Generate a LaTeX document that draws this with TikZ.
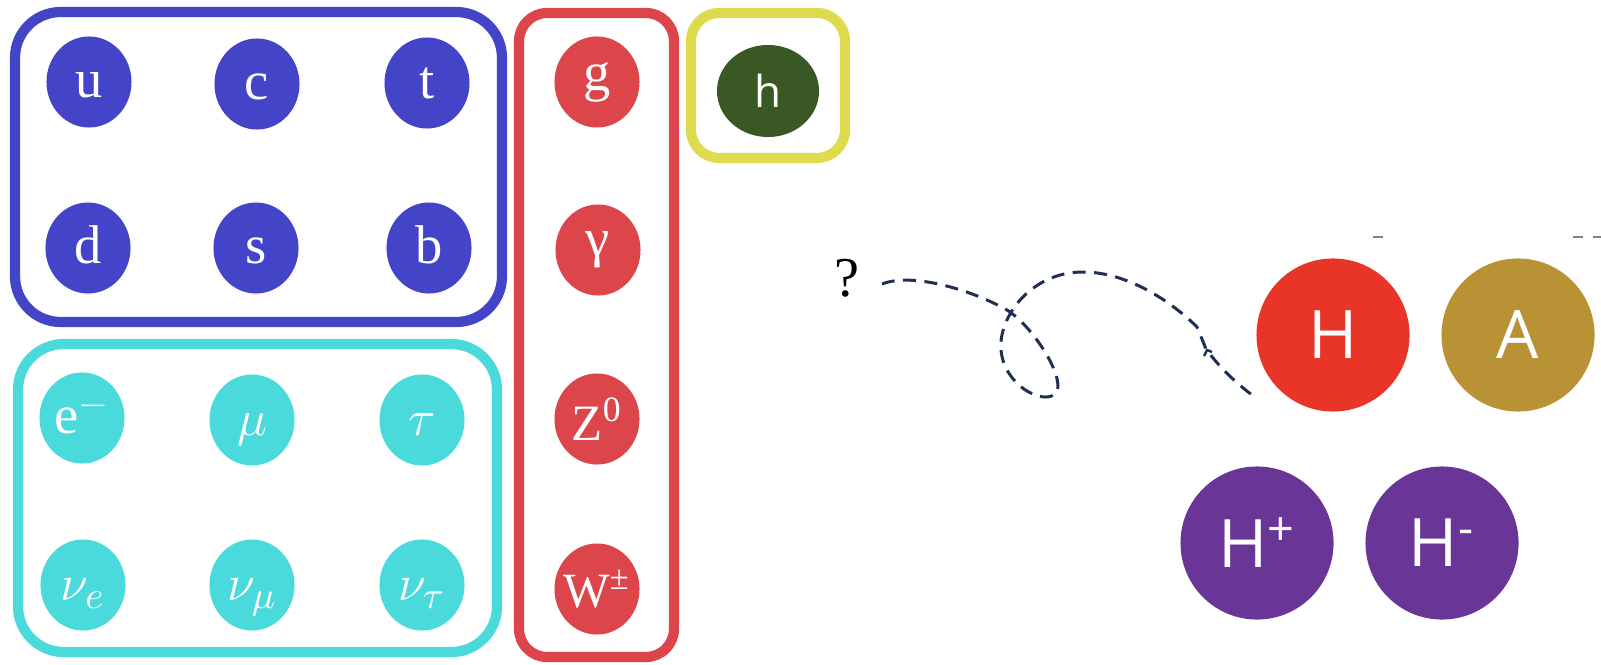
\documentclass[tikz,border=0pt]{standalone}
\usepackage{fontspec}
\setmainfont{Liberation Serif}
\setsansfont{Open Sans}
\usetikzlibrary{shapes.geometric}
\definecolor{qblue}{RGB}{68,68,200}
\definecolor{lcyan}{RGB}{74,218,220}
\definecolor{bred}{RGB}{220,70,74}
\definecolor{hyel}{RGB}{222,220,78}
\definecolor{hgreen}{RGB}{58,88,36}
\definecolor{bigH}{RGB}{232,53,39}
\definecolor{bigA}{RGB}{184,146,52}
\definecolor{bigP}{RGB}{105,53,151}
\definecolor{navy}{RGB}{30,48,80}
\tikzset{
  groupbox/.style={line width=2.9pt, rounded corners=#1},
  blob/.style={ellipse, inner sep=0pt, minimum width=0.85cm, minimum height=0.91cm,
    text=white, font=\fontsize{15.5}{18}\selectfont},
  based/.style={text height=9pt, text depth=0pt},
  bigc/.style={circle, inner sep=0pt, minimum size=1.53cm, text=white,
    font=\sffamily\fontsize{19}{22}\selectfont},
  path-dash/.style={navy, line width=0.85pt, dash pattern=on 3.7pt off 2.4pt},
}
\begin{document}
\begin{tikzpicture}[x=0.01cm,y=-0.01cm]
\useasboundingbox (0,0) rectangle (1601,664);
% group boxes
\draw[groupbox=13pt, qblue] (15,12) rectangle (502,322);
\draw[groupbox=13pt, lcyan] (18,344) rectangle (497,652);
\draw[groupbox=8pt, bred] (519,13) rectangle (674,657);
\draw[groupbox=8pt, hyel] (691,13) rectangle (845,158);
% quarks
\node[blob, based, fill=qblue] (u) at (89,82) {u};
\node[blob, based, fill=qblue] (c) at (257,84) {c};
\node[blob, based, fill=qblue] (t) at (427,83) {t};
\node[blob, based, fill=qblue] (d) at (88,248) {d};
\node[blob, based, fill=qblue] (s) at (256,248) {s};
\node[blob, based, fill=qblue] (b) at (429,248) {b};
% leptons
\node[blob, based, fill=lcyan] (e) at (82,418) {e$^{-}$};
\node[blob, based, fill=lcyan] (mu) at (252,420) {$\mu$};
\node[blob, based, fill=lcyan] (tau) at (422,420) {$\tau$};
\node[blob, based, fill=lcyan] (ne) at (83,585) {$\nu_e$};
\node[blob, based, fill=lcyan] (nm) at (252,585) {$\nu_\mu$};
\node[blob, based, fill=lcyan] (nt) at (422,585) {$\nu_\tau$};
% bosons
\node[blob, fill=bred] (g) at (597,82) {g};
\node[blob, fill=bred] (gam) at (598,250) {γ};
\node[blob, fill=bred, font=\fontsize{14.5}{17}\selectfont, inner xsep=-4pt] (Z) at (597,419) {Z\textsuperscript{0}};
\node[blob, fill=bred, font=\fontsize{14}{16}\selectfont, inner xsep=-6pt] (W) at (597,589) {W\textsuperscript{±}};
% higgs
\node[ellipse, fill=hgreen, inner sep=0pt, minimum width=1.02cm, minimum height=0.92cm,
  text=white, font=\sffamily\fontsize{12.5}{15}\selectfont] (h) at (768,91) {h};
% question and curve
\node[font=\fontsize{16}{18}\selectfont, inner sep=0pt] (q) at (847,278) {?};
\node[bigc, fill=bigH] (H) at (1333,335) {H};
\node[bigc, fill=bigA] (A) at (1518,335) {A};
\node[bigc, fill=bigP] (Hp) at (1257,543) {H\textsuperscript{+}};
\node[bigc, fill=bigP] (Hm) at (1442,543) {H\textsuperscript{-}};
\coordinate (qs) at (882,284);
\coordinate (hend) at (1252,395);
\draw[path-dash] (qs) .. controls (912,272) and (972,290) .. (1007,310)
  .. controls (1035,328) and (1068,382) .. (1055,394)
  .. controls (1042,405) and (1004,385) .. (1001,350)
  .. controls (998,318) and (1030,272) .. (1083,272)
  .. controls (1130,272) and (1175,305) .. (1197,327)
  -- (1206,349) .. controls (1220,368) and (1235,382) .. (hend);
\draw[navy, line width=0.7pt] (1204,356) -- (1207,350) -- (1212,352);
% small marks at top right
\draw[gray, line width=0.5pt] (1373,237) -- (1383,237);
\draw[gray, line width=0.5pt] (1573,237) -- (1583,237);
\draw[gray, line width=0.5pt] (1593,237) -- (1601,237);
\end{tikzpicture}
\end{document}
